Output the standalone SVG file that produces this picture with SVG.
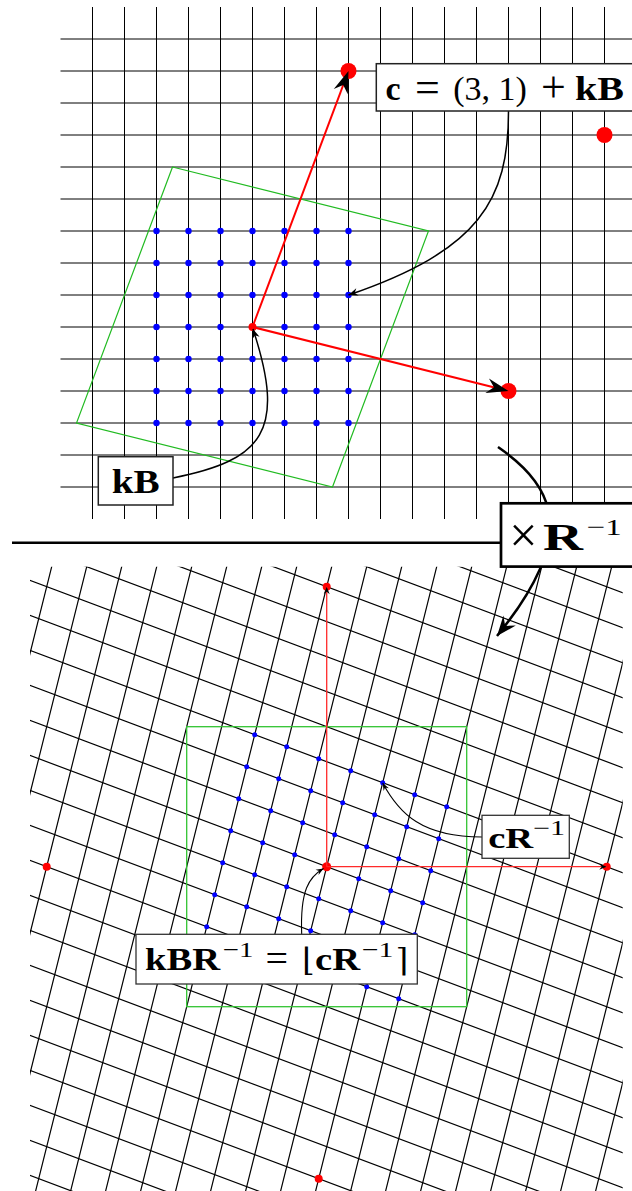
<svg xmlns="http://www.w3.org/2000/svg" width="632" height="1191" viewBox="0 0 632 1191">
<defs>
<style>
.grid{stroke:#000;stroke-width:1;fill:none}
.lgrid{stroke:#000;stroke-width:1.2;fill:none;vector-effect:non-scaling-stroke}
.green{stroke:#22bb22;stroke-width:1.2;fill:none}
.lgreen{stroke:#33c433;stroke-width:1.3;fill:none}
.bd{fill:#0000ff}
.rd{fill:#ff0000}
.rline{stroke:#ff0000;stroke-width:2;fill:none}
.lrline{stroke:#ff2a2a;stroke-width:1.3;fill:none}
.box{fill:#fff;stroke:#222;stroke-width:1.5}
.lbox{fill:#fff;stroke:#333;stroke-width:1.3}
.conn{fill:none;stroke:#000;stroke-width:1.5}
.lconn{fill:none;stroke:#000;stroke-width:1.1}
.t{font-family:"Liberation Serif","DejaVu Serif",serif;fill:#000;text-anchor:middle}
.b{font-weight:bold}
.br{font-family:"DejaVu Serif","DejaVu Sans",serif;fill:#000;text-anchor:middle}
</style>
<marker id="aBig" viewBox="-23 -8 24 16" markerWidth="24" markerHeight="16" refX="0" refY="0" orient="auto" markerUnits="userSpaceOnUse"><path d="M0,0 L-22,-7.5 L-15,0 L-22,7.5 Z" fill="#000"/></marker>
<marker id="aHuge" viewBox="-21 -9 22 18" markerWidth="22" markerHeight="18" refX="0" refY="0" orient="auto" markerUnits="userSpaceOnUse"><path d="M0,0 L-20,-8 L-13,0 L-20,8 Z" fill="#000"/></marker>
<marker id="aMed" viewBox="-10 -4 11 8" markerWidth="11" markerHeight="8" refX="0" refY="0" orient="auto" markerUnits="userSpaceOnUse"><path d="M0,0 L-9.5,-3.8 L-6.5,0 L-9.5,3.8 Z" fill="#000"/></marker>
<marker id="aSm" viewBox="-8 -3.5 9 7" markerWidth="9" markerHeight="7" refX="0" refY="0" orient="auto" markerUnits="userSpaceOnUse"><path d="M0,0 L-7.5,-3 L-5,0 L-7.5,3 Z" fill="#000"/></marker>
<clipPath id="lowclip"><rect x="30" y="566.7" width="592.7" height="630"/></clipPath>
</defs>
<rect x="0" y="0" width="632" height="1191" fill="#fff"/>

<g id="upper-lattice">
<path class="grid" d="M92.5,7V519M124.5,7V519M156.5,7V519M188.5,7V519M220.5,7V519M252.5,7V519M284.5,7V519M316.5,7V519M348.5,7V519M380.5,7V519M412.5,7V519M444.5,7V519M476.5,7V519M508.5,7V519M540.5,7V519M572.5,7V519M604.5,7V519"/>
<path class="grid" d="M60.5,39H640M60.5,71H640M60.5,103H640M60.5,135H640M60.5,167H640M60.5,199H640M60.5,231H640M60.5,263H640M60.5,295H640M60.5,327H640M60.5,359H640M60.5,391H640M60.5,423H640M60.5,455H640M60.5,487H640"/>
<path class="green" d="M172.5,167 L428.5,231 L332.5,487 L76.5,423 Z"/>
<g id="upper-dots">
<circle class="bd" cx="156.5" cy="231" r="3.2"/><circle class="bd" cx="188.5" cy="231" r="3.2"/><circle class="bd" cx="220.5" cy="231" r="3.2"/><circle class="bd" cx="252.5" cy="231" r="3.2"/><circle class="bd" cx="284.5" cy="231" r="3.2"/><circle class="bd" cx="316.5" cy="231" r="3.2"/><circle class="bd" cx="348.5" cy="231" r="3.2"/>
<circle class="bd" cx="156.5" cy="263" r="3.2"/><circle class="bd" cx="188.5" cy="263" r="3.2"/><circle class="bd" cx="220.5" cy="263" r="3.2"/><circle class="bd" cx="252.5" cy="263" r="3.2"/><circle class="bd" cx="284.5" cy="263" r="3.2"/><circle class="bd" cx="316.5" cy="263" r="3.2"/><circle class="bd" cx="348.5" cy="263" r="3.2"/>
<circle class="bd" cx="156.5" cy="295" r="3.2"/><circle class="bd" cx="188.5" cy="295" r="3.2"/><circle class="bd" cx="220.5" cy="295" r="3.2"/><circle class="bd" cx="252.5" cy="295" r="3.2"/><circle class="bd" cx="284.5" cy="295" r="3.2"/><circle class="bd" cx="316.5" cy="295" r="3.2"/><circle class="bd" cx="348.5" cy="295" r="3.2"/>
<circle class="bd" cx="156.5" cy="327" r="3.2"/><circle class="bd" cx="188.5" cy="327" r="3.2"/><circle class="bd" cx="220.5" cy="327" r="3.2"/><circle class="bd" cx="284.5" cy="327" r="3.2"/><circle class="bd" cx="316.5" cy="327" r="3.2"/><circle class="bd" cx="348.5" cy="327" r="3.2"/>
<circle class="bd" cx="156.5" cy="359" r="3.2"/><circle class="bd" cx="188.5" cy="359" r="3.2"/><circle class="bd" cx="220.5" cy="359" r="3.2"/><circle class="bd" cx="252.5" cy="359" r="3.2"/><circle class="bd" cx="284.5" cy="359" r="3.2"/><circle class="bd" cx="316.5" cy="359" r="3.2"/><circle class="bd" cx="348.5" cy="359" r="3.2"/>
<circle class="bd" cx="156.5" cy="391" r="3.2"/><circle class="bd" cx="188.5" cy="391" r="3.2"/><circle class="bd" cx="220.5" cy="391" r="3.2"/><circle class="bd" cx="252.5" cy="391" r="3.2"/><circle class="bd" cx="284.5" cy="391" r="3.2"/><circle class="bd" cx="316.5" cy="391" r="3.2"/><circle class="bd" cx="348.5" cy="391" r="3.2"/>
<circle class="bd" cx="156.5" cy="423" r="3.2"/><circle class="bd" cx="188.5" cy="423" r="3.2"/><circle class="bd" cx="220.5" cy="423" r="3.2"/><circle class="bd" cx="252.5" cy="423" r="3.2"/><circle class="bd" cx="284.5" cy="423" r="3.2"/><circle class="bd" cx="316.5" cy="423" r="3.2"/><circle class="bd" cx="348.5" cy="423" r="3.2"/>
</g>
<circle class="rd" cx="348.5" cy="71" r="8"/>
<circle class="rd" cx="508.5" cy="391" r="8"/>
<circle class="rd" cx="604.5" cy="135" r="8"/>
<circle class="rd" cx="252.5" cy="327" r="4"/>
<path class="rline" d="M252.5,327 L348.5,71" marker-end="url(#aBig)"/>
<path class="rline" d="M252.5,327 L508.5,391" marker-end="url(#aBig)"/>
</g>

<path id="separator" d="M12,542.7 H502" stroke="#000" stroke-width="2.5" fill="none"/>

<g id="lower-lattice">
<g clip-path="url(#lowclip)">
<g transform="matrix(32 12 -8 32 326.7 866.7)">
<path class="lgrid" d="M-14,-12H14M-14,-11H14M-14,-10H14M-14,-9H14M-14,-8H14M-14,-7H14M-14,-6H14M-14,-5H14M-14,-4H14M-14,-3H14M-14,-2H14M-14,-1H14M-14,0H14M-14,1H14M-14,2H14M-14,3H14M-14,4H14M-14,5H14M-14,6H14M-14,7H14M-14,8H14M-14,9H14M-14,10H14M-14,11H14M-14,12H14M-14,13H14"/>
<path class="lgrid" d="M-11,-14V14M-10,-14V14M-9,-14V14M-8,-14V14M-7,-14V14M-6,-14V14M-5,-14V14M-4,-14V14M-3,-14V14M-2,-14V14M-1,-14V14M0,-14V14M1,-14V14M2,-14V14M3,-14V14M4,-14V14M5,-14V14M6,-14V14M7,-14V14M8,-14V14M9,-14V14M10,-14V14M11,-14V14"/>
</g>
</g>
<rect class="lgreen" x="186.7" y="726.7" width="280" height="280"/>
<g id="lower-dots">
<circle class="bd" cx="254.7" cy="734.7" r="2.5"/><circle class="bd" cx="286.7" cy="746.7" r="2.5"/><circle class="bd" cx="318.7" cy="758.7" r="2.5"/><circle class="bd" cx="350.7" cy="770.7" r="2.5"/><circle class="bd" cx="382.7" cy="782.7" r="2.5"/><circle class="bd" cx="414.7" cy="794.7" r="2.5"/><circle class="bd" cx="446.7" cy="806.7" r="2.5"/>
<circle class="bd" cx="246.7" cy="766.7" r="2.5"/><circle class="bd" cx="278.7" cy="778.7" r="2.5"/><circle class="bd" cx="310.7" cy="790.7" r="2.5"/><circle class="bd" cx="342.7" cy="802.7" r="2.5"/><circle class="bd" cx="374.7" cy="814.7" r="2.5"/><circle class="bd" cx="406.7" cy="826.7" r="2.5"/><circle class="bd" cx="438.7" cy="838.7" r="2.5"/>
<circle class="bd" cx="238.7" cy="798.7" r="2.5"/><circle class="bd" cx="270.7" cy="810.7" r="2.5"/><circle class="bd" cx="302.7" cy="822.7" r="2.5"/><circle class="bd" cx="334.7" cy="834.7" r="2.5"/><circle class="bd" cx="366.7" cy="846.7" r="2.5"/><circle class="bd" cx="398.7" cy="858.7" r="2.5"/><circle class="bd" cx="430.7" cy="870.7" r="2.5"/>
<circle class="bd" cx="230.7" cy="830.7" r="2.5"/><circle class="bd" cx="262.7" cy="842.7" r="2.5"/><circle class="bd" cx="294.7" cy="854.7" r="2.5"/><circle class="bd" cx="358.7" cy="878.7" r="2.5"/><circle class="bd" cx="390.7" cy="890.7" r="2.5"/><circle class="bd" cx="422.7" cy="902.7" r="2.5"/>
<circle class="bd" cx="222.7" cy="862.7" r="2.5"/><circle class="bd" cx="254.7" cy="874.7" r="2.5"/><circle class="bd" cx="286.7" cy="886.7" r="2.5"/><circle class="bd" cx="318.7" cy="898.7" r="2.5"/><circle class="bd" cx="350.7" cy="910.7" r="2.5"/><circle class="bd" cx="382.7" cy="922.7" r="2.5"/><circle class="bd" cx="414.7" cy="934.7" r="2.5"/>
<circle class="bd" cx="214.7" cy="894.7" r="2.5"/><circle class="bd" cx="246.7" cy="906.7" r="2.5"/><circle class="bd" cx="278.7" cy="918.7" r="2.5"/><circle class="bd" cx="310.7" cy="930.7" r="2.5"/><circle class="bd" cx="342.7" cy="942.7" r="2.5"/><circle class="bd" cx="374.7" cy="954.7" r="2.5"/><circle class="bd" cx="406.7" cy="966.7" r="2.5"/>
<circle class="bd" cx="206.7" cy="926.7" r="2.5"/><circle class="bd" cx="238.7" cy="938.7" r="2.5"/><circle class="bd" cx="270.7" cy="950.7" r="2.5"/><circle class="bd" cx="302.7" cy="962.7" r="2.5"/><circle class="bd" cx="334.7" cy="974.7" r="2.5"/><circle class="bd" cx="366.7" cy="986.7" r="2.5"/><circle class="bd" cx="398.7" cy="998.7" r="2.5"/>
</g>
<circle class="rd" cx="326.7" cy="586.7" r="4"/>
<circle class="rd" cx="606.7" cy="866.7" r="4"/>
<circle class="rd" cx="46.7" cy="866.7" r="4"/>
<circle class="rd" cx="318.7" cy="1178.7" r="4"/>
<circle class="rd" cx="326.7" cy="866.7" r="4.5"/>
<path class="lrline" d="M326.7,866.7 V586.7" marker-end="url(#aSm)"/>
<path class="lrline" d="M326.7,866.7 H606.7" marker-end="url(#aSm)"/>
</g>

<g id="connectors">
<path class="conn" d="M508.5,111 C508.5,200 480,250 348.5,295" marker-end="url(#aMed)"/>
<path class="conn" d="M173,478 C263,460 286.6,431.5 253,329" marker-end="url(#aMed)"/>
<path class="lconn" d="M482,837 C422,837 399.2,813.8 382.7,783" marker-end="url(#aSm)"/>
<path class="lconn" d="M301.7,934.3 C300,890 309,877 323.5,868.5" marker-end="url(#aSm)"/>
<path d="M498,447 C560,490 575,540 497,636" fill="none" stroke="#000" stroke-width="2.5" marker-end="url(#aHuge)"/>
</g>

<g id="node-c">
<rect class="box" x="376.3" y="63.7" width="258" height="47.3"/>
<text class="t b" x="393" y="99.5" font-size="34">c</text>
<text class="t" x="427.5" y="102" font-size="44">=</text>
<text class="t" x="490" y="99.5" font-size="34">(3, 1)</text>
<text class="t" x="553.3" y="101.5" font-size="44">+</text>
<text class="t b" x="599.5" y="99.5" font-size="34" textLength="49" lengthAdjust="spacingAndGlyphs">kB</text>
</g>

<g id="node-kB">
<rect class="box" x="98.3" y="456.7" width="74.7" height="48.3"/>
<text class="t b" x="135.8" y="493.3" font-size="34" textLength="48" lengthAdjust="spacingAndGlyphs">kB</text>
</g>

<g id="node-Rinv">
<rect x="501" y="503.3" width="140" height="63.3" fill="#fff" stroke="#000" stroke-width="2.7"/>
<text class="t" x="523.3" y="552" font-size="50">×</text>
<text class="t b" x="563" y="550" font-size="38" textLength="40" lengthAdjust="spacingAndGlyphs">R</text>
<text class="t" x="604.2" y="535" font-size="24" textLength="35" lengthAdjust="spacingAndGlyphs">−1</text>
</g>

<g id="node-cRinv">
<rect class="lbox" x="482" y="815.3" width="87.3" height="43"/>
<text class="t b" x="510.7" y="848.3" font-size="30" textLength="45" lengthAdjust="spacingAndGlyphs">cR</text>
<text class="t" x="549" y="835" font-size="21" textLength="32" lengthAdjust="spacingAndGlyphs">−1</text>
</g>

<g id="node-kBRinv">
<rect class="lbox" x="136" y="934.3" width="281.3" height="49.7"/>
<text class="t b" x="182.5" y="970" font-size="32" textLength="75" lengthAdjust="spacingAndGlyphs">kBR</text>
<text class="t" x="238" y="956.5" font-size="22" textLength="30.6" lengthAdjust="spacingAndGlyphs">−1</text>
<text class="t" x="276.7" y="972" font-size="40">=</text>
<text class="br" x="308.3" y="971" font-size="32">⌊</text>
<text class="t b" x="337.5" y="970" font-size="32" textLength="45" lengthAdjust="spacingAndGlyphs">cR</text>
<text class="t" x="377.5" y="956.5" font-size="22" textLength="31.6" lengthAdjust="spacingAndGlyphs">−1</text>
<text class="br" x="401.7" y="971" font-size="32">⌉</text>
</g>
</svg>
